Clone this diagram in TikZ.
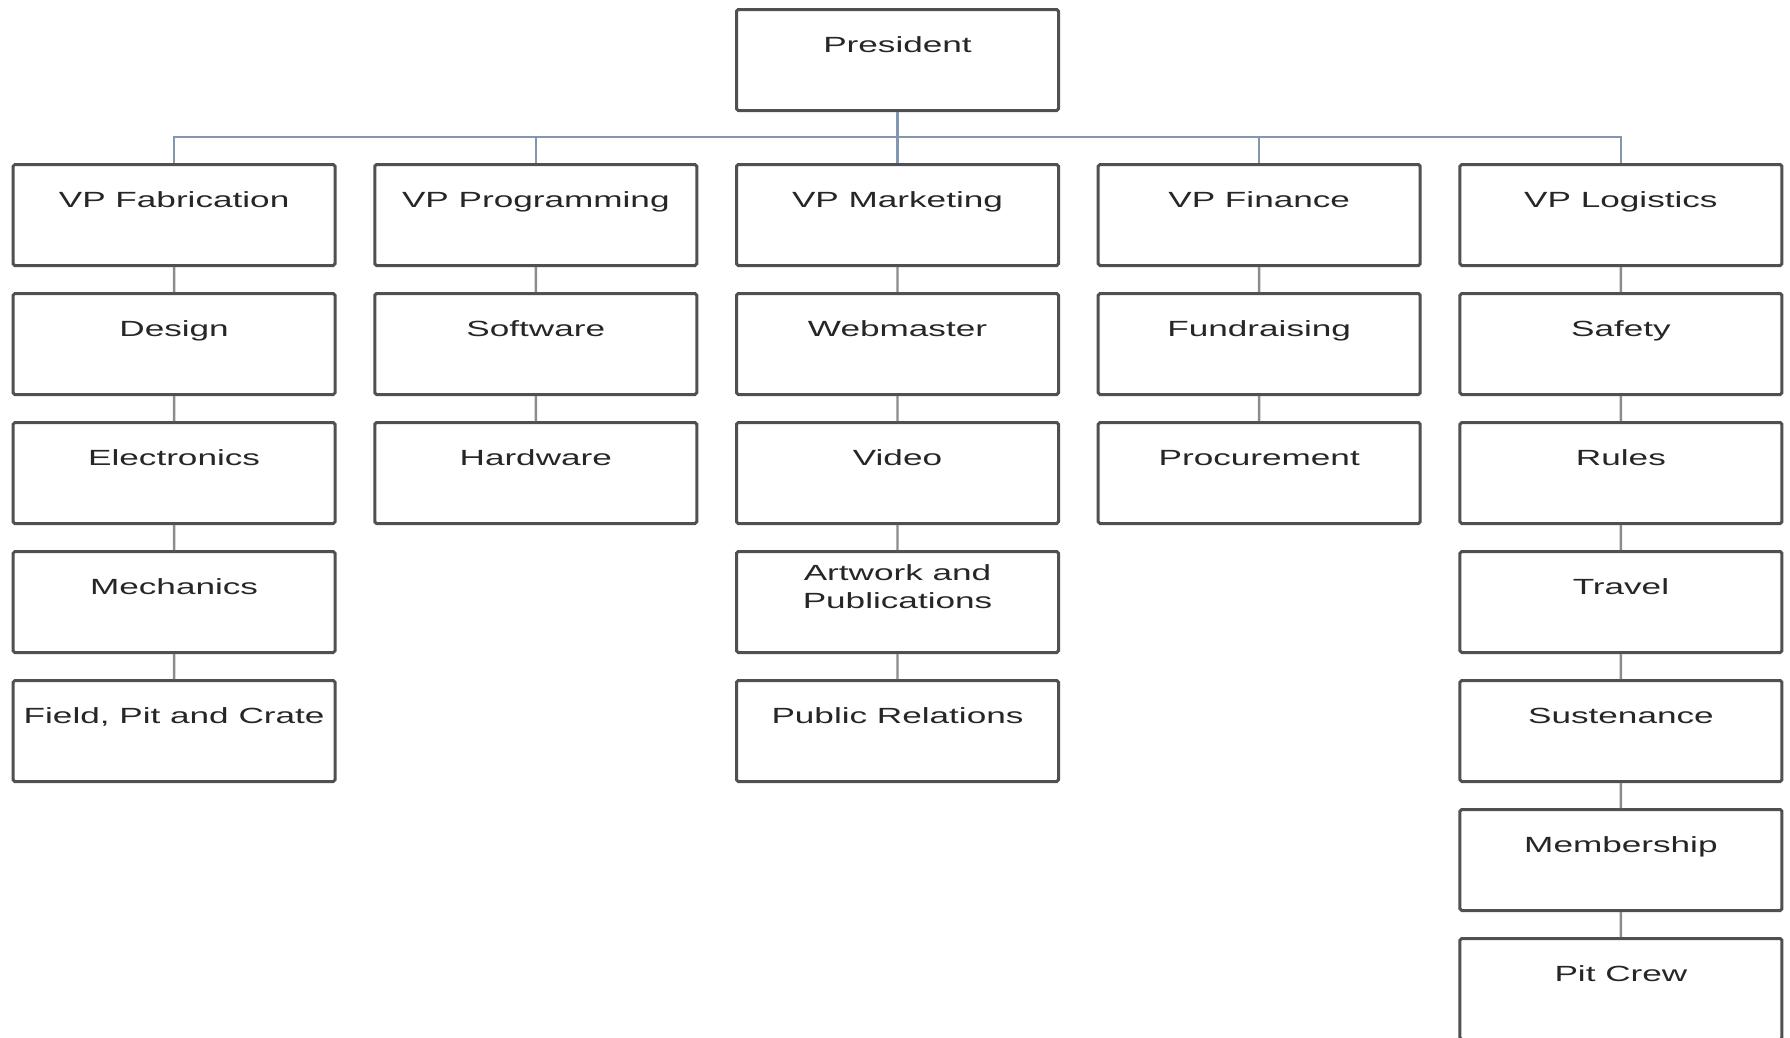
\documentclass[tikz,border=0pt]{standalone}
\usepackage{fontspec}
\newfontfamily\chartfont[FakeStretch=1.6]{Liberation Sans}
\definecolor{boxline}{HTML}{505050}
\definecolor{wiregray}{HTML}{8C8C8C}
\definecolor{wireblue}{HTML}{8497B0}
\definecolor{textgray}{HTML}{262626}

\begin{document}
\begin{tikzpicture}[
  every node/.style = {shape=rectangle, rounded corners=1pt,
    draw=boxline, line width=1.7pt, inner sep=0pt,
    minimum width=6.44cm, text height=0.85cm, text depth=1.17cm,
    align=center, text=textgray,
    font=\chartfont\fontsize{12.5}{15.9}\selectfont},
  level 1/.style={sibling distance=7.234cm, level distance=3.1cm,
    edge from parent/.style={draw=wireblue, line width=1.4pt},
    edge from parent path={(\tikzparentnode.south) -- ++(0,-0.5cm)
      -| (\tikzchildnode.north)}},
  level 2/.style={level distance=2.58cm,
    edge from parent/.style={draw=wiregray, line width=1.4pt},
    edge from parent path={(\tikzparentnode.south) -- (\tikzchildnode.north)}},
  twoline/.style={text height=1.13cm, text depth=0.89cm}]
  \useasboundingbox (0,0) rectangle (35.8,-20.74);
  \clip (0,0) rectangle (35.8,-20.74);
  \node (pres) at (17.95,-1.2) {President}
    child { node (vpfab) {VP Fabrication}
      child { node (design) {Design}
        child { node (elec) {Electronics}
          child { node (mech) {Mechanics}
            child { node (field) {Field, Pit and Crate}}}}}}
    child { node (vpprog) {VP Programming}
      child { node (soft) {Software}
        child { node (hard) {Hardware}}}}
    child { node (vpmark) {VP Marketing}
      child { node (web) {Webmaster}
        child { node (video) {Video}
          child { node[twoline] (art) {Artwork and\\Publications}
            child { node (pr) {Public Relations}}}}}}
    child { node (vpfin) {VP Finance}
      child { node (fund) {Fundraising}
        child { node (proc) {Procurement}}}}
    child { node (vplog) {VP Logistics}
      child { node (safety) {Safety}
        child { node (rules) {Rules}
          child { node (travel) {Travel}
            child { node (sust) {Sustenance}
              child { node (member) {Membership}
                child { node (pit) {Pit Crew}}}}}}}};
\end{tikzpicture}
\end{document}
